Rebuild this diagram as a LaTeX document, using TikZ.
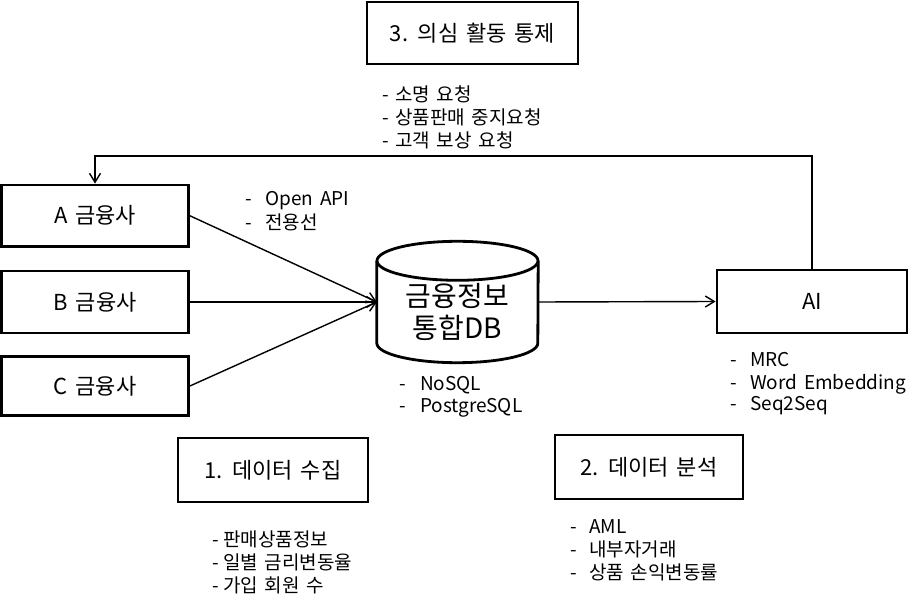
\documentclass[tikz,border=0pt]{standalone}
\usepackage{fontspec}
\setmainfont{Noto Sans CJK KR}[WordSpace=1.6]
\usetikzlibrary{arrows.meta}
\begin{document}
\begin{tikzpicture}[x=1pt,y=1pt,
  box/.style={draw, line width=2.8pt, inner sep=0pt, font=\fontsize{22}{26}\selectfont},
  lst/.style={anchor=north west, inner sep=0pt, align=left, font=\fontsize{19}{21.5}\selectfont},
  conn/.style={line width=1.4pt, -{Straight Barb[length=9pt,width=11pt]}},
  dbline/.style={line width=2.8pt}]
\useasboundingbox (0,0) rectangle (923,600);
% boxes
\node[box, minimum width=211pt, minimum height=62pt] (ctl) at (472.5,567) {3. 의심 활동 통제};
\node[box, minimum width=187pt, minimum height=61.5pt] (a) at (95,384.25) {A 금융사};
\node[box, minimum width=187pt, minimum height=62pt] (b) at (95,298) {B 금융사};
\node[box, minimum width=187pt, minimum height=59pt] (c) at (95,214) {C 금융사};
\node[box, minimum width=190pt, minimum height=63pt] (ai) at (812,298.5) {AI};
\node[box, minimum width=190pt, minimum height=64pt] (s1) at (273,130) {1. 데이터 수집};
\node[box, minimum width=188pt, minimum height=64pt] (s2) at (649,133) {2. 데이터 분석};
% database cylinder
\node[minimum width=161pt, minimum height=121pt, inner sep=0pt] (db) at (457.5,298) {};
\draw[dbline] ([yshift=-19.5pt]db.north west) -- ([yshift=19.5pt]db.south west)
  arc[start angle=180, end angle=360, x radius=80.5pt, y radius=19.5pt]
  -- ([yshift=-19.5pt]db.north east);
\draw[dbline] ([yshift=-19.5pt]db.north) ellipse[x radius=80.5pt, y radius=19.5pt];
\node[inner sep=0pt, align=center, font=\fontsize{28}{32}\selectfont] (dblabel) at (457.5,288.5) {금융정보\\통합DB};
% connectors
\draw[conn] (a.east) -- (db.west);
\draw[conn] (b.east) -- (db.west);
\draw[conn] (c.east) -- (db.west);
\draw[conn] (db.east) -- (ai.west);
\coordinate (fbtop) at (0,444);
\draw[conn] (ai.north) -- (ai.north |- fbtop) -| (a.north);
% lists
\node[lst] (l3) at (382,514.85) {\strut\makebox[13pt][l]{-}소명 요청\\\strut\makebox[13pt][l]{-}상품판매 중지요청\\\strut\makebox[13pt][l]{-}고객 보상 요청};
\node[lst] (lapi) at (245,409.35) {\strut\makebox[20pt][l]{-}Open API\\\strut\makebox[20pt][l]{-}전용선};
\node[lst] (ldb) at (399,224.35) {\strut\makebox[21pt][l]{-}NoSQL\\\strut\makebox[21pt][l]{-}PostgreSQL};
\node[lst] (lai) at (730,248.35) {\strut\makebox[20pt][l]{-}MRC\\\strut\makebox[20pt][l]{-}Word Embedding\\\strut\makebox[20pt][l]{-}Seq2Seq};
\node[lst] (l1) at (212,69.35) {\strut\makebox[11pt][l]{-}판매상품정보\\\strut\makebox[11pt][l]{-}일별 금리변동율\\\strut\makebox[11pt][l]{-}가입 회원 수};
\node[lst] (l2) at (570,81.85) {\strut\makebox[19pt][l]{-}AML\\\strut\makebox[19pt][l]{-}내부자거래\\\strut\makebox[19pt][l]{-}상품 손익변동률};
\end{tikzpicture}
\end{document}
